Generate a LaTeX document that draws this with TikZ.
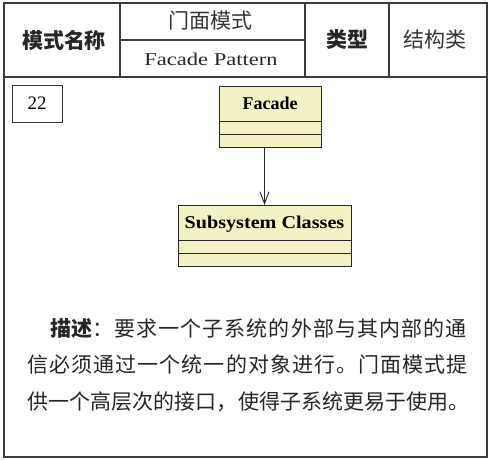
\documentclass[tikz,border=0pt]{standalone}
\usepackage{fontspec}
\setmainfont{Liberation Serif}
\newfontfamily\cjk{Noto Sans CJK SC}
\newfontfamily\cjkdesc{Noto Sans CJK SC}[LetterSpace=5.2]
\newfontfamily\cjktight{Noto Sans CJK SC}[LetterSpace=0.4]
\newfontfamily\widerm{Liberation Serif}[FakeStretch=1.25]
\newfontfamily\widebf{Liberation Serif Bold}[FakeStretch=1.12]
\usetikzlibrary{arrows.meta,shapes.multipart}
\definecolor{umlfill}{HTML}{F2F2C4}
\definecolor{rulegray}{HTML}{3C3C3C}

\begin{document}
\begin{tikzpicture}[
    x=1pt, y=-1pt,
    rule/.style={draw=rulegray, line width=1.2pt},
    head/.style={font=\cjk\bfseries\fontsize{21}{24}\selectfont, text=black!85},
    cell/.style={font=\cjk\fontsize{21}{24}\selectfont, text=black!80},
    umlclass/.style={rectangle split, rectangle split parts=3, draw=black!85, line width=0.9pt,
        fill=umlfill, inner xsep=4pt, inner ysep=0pt, rectangle split empty part height=12pt,
        rectangle split empty part depth=0pt, font=\bfseries\fontsize{18}{20}\selectfont},
    desc/.style={anchor=west, inner sep=0pt, font=\cjkdesc\fontsize{21}{25}\selectfont, text=black!85},
]
\useasboundingbox (0,0) rectangle (490,460);

% Header table
\draw[rule] (4,3) rectangle (487,457);
\draw[rule] (4,77) -- (487,77);
\draw[rule] (120,3) -- (120,77);
\draw[rule] (305,3) -- (305,77);
\draw[rule] (389,3) -- (389,77);
\draw[rule] (120,40) -- (305,40);

\node[head] (namehd) at (64,40) {模式名称};
\node[cell] (cnname) at (210,21) {门面模式};
\node[font=\widerm\fontsize{18}{20}\selectfont, text=black!85] (enname) at (211,59) {Facade Pattern};
\node[head] (typehd) at (347,40) {类型};
\node[cell] (typeval) at (435,40) {结构类};

% Number
\node[draw=black!80, line width=0.9pt, minimum width=50pt, minimum height=37pt,
    font=\fontsize{19}{20}\selectfont] (num) at (37,103.5) {22};

% Classes
\node[umlclass, minimum width=102pt, anchor=north] (facade) at (270,86)
    {\rule[-11pt]{0pt}{34pt}Facade \nodepart{second} \nodepart{third}};
\node[umlclass, minimum width=173pt, anchor=north] (subsys) at (264.5,205)
    {\rule[-11pt]{0pt}{34pt}\widebf Subsystem Classes \nodepart{second} \nodepart{third}};

\draw[-{Straight Barb[length=12pt,width=9pt]}, line width=0.9pt, black!85]
    (subsys.north |- facade.south) -- (subsys.north);

% Description
\node[desc] (line1) at (50,328) {{\cjk\bfseries 描述}：要求一个子系统的外部与其内部的通};
\node[desc] (line2) at (27,365) {信必须通过一个统一的对象进行。门面模式提};
\node[desc, font=\cjktight\fontsize{21}{25}\selectfont] (line3) at (27,402) {供一个高层次的接口，使得子系统更易于使用。};
\end{tikzpicture}
\end{document}
